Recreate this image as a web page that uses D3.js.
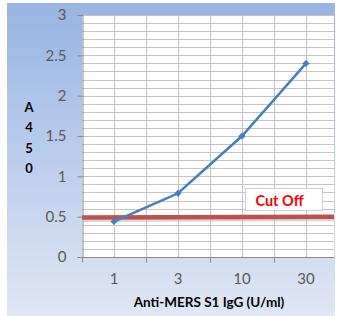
<!DOCTYPE html>
<html>
<head>
<meta charset="utf-8">
<style>
  body { margin: 0; background: white; }
  svg { display: block; font-family: Lato, "Liberation Sans", sans-serif; }
</style>
<script src="https://cdn.jsdelivr.net/npm/d3@7"></script>
</head>
<body>
<svg id="chart"></svg>
<script>
// data
const doses = ["1", "3", "10", "30"]
const a450 = [0.44, 0.79, 1.5, 2.4]
const yTicks = [0, 0.5, 1, 1.5, 2, 2.5, 3]
const cutoff = [0.49, 0.5]   // left edge, right edge
const yLabelChars = ["A", "4", "5", "0"]

let width = 338
let height = 316
let plotLeft = 82, plotRight = 334, plotTop = 15, plotBottom = 257

let svg = d3.select("#chart").attr("width", width).attr("height", height)

let defs = svg.append("defs")
let grad = defs.append("linearGradient").attr("id", "bg")
  .attr("x1", 0).attr("y1", 0).attr("x2", 0).attr("y2", 1)
grad.append("stop").attr("offset", "0%").attr("stop-color", "#98b4e2")
grad.append("stop").attr("offset", "100%").attr("stop-color", "#e0e7f5")

svg.append("rect").attr("x", 7).attr("y", 3)
  .attr("width", 328).attr("height", 313)
  .attr("fill", "url(#bg)")

let x = d3.scaleBand().domain(doses).range([plotLeft, plotLeft + 256])
let y = d3.scaleLinear().domain([0, 3]).range([plotBottom, plotTop])

// plot area
svg.append("rect").attr("x", plotLeft).attr("y", plotTop)
  .attr("width", plotRight - plotLeft).attr("height", plotBottom - plotTop)
  .attr("fill", "white")

// gridlines, every 0.1
let minor = d3.range(0, 31).map(d => d / 10)
svg.append("g").selectAll("line").data(minor).enter().append("line")
  .attr("x1", plotLeft).attr("x2", plotRight)
  .attr("y1", d => Math.round(y(d)) + 0.5).attr("y2", d => Math.round(y(d)) + 0.5)
  .attr("stroke", "#c4c4c4")

let vlines = []
doses.forEach(d => {
  vlines.push(x(d) + x.bandwidth() / 2)
  vlines.push(x(d) + x.bandwidth())
})
svg.append("g").selectAll("line").data(vlines.filter(v => v < plotRight)).enter().append("line")
  .attr("x1", d => Math.round(d) + 0.5).attr("x2", d => Math.round(d) + 0.5)
  .attr("y1", plotTop).attr("y2", plotBottom)
  .attr("stroke", "#c4c4c4")

// axes
let yAxis = d3.axisLeft(y).tickValues(yTicks).tickSize(5).tickPadding(11)
  .tickFormat(d3.format("~g"))
let gy = svg.append("g").attr("transform", `translate(${plotLeft + 0.5},0)`).call(yAxis)
gy.select(".domain").attr("stroke", "#8a8a8a")
gy.selectAll(".tick line").attr("stroke", "#8a8a8a")
gy.selectAll("text").attr("font-size", 15).attr("fill", "#595959")
  .attr("font-family", "Lato, sans-serif")

let gx = svg.append("g").attr("transform", `translate(0,${plotBottom + 0.5})`)
gx.append("line").attr("x1", plotLeft).attr("x2", plotRight).attr("stroke", "#8a8a8a")
let bounds = [plotLeft].concat(doses.map(d => x(d) + x.bandwidth())).filter(v => v < plotRight)
gx.selectAll(".tk").data(bounds).enter().append("line")
  .attr("x1", d => Math.round(d) + 0.5).attr("x2", d => Math.round(d) + 0.5)
  .attr("y1", 0).attr("y2", 5).attr("stroke", "#8a8a8a")
gx.selectAll("text").data(doses).enter().append("text")
  .attr("x", d => x(d) + x.bandwidth() / 2)
  .attr("y", 26)
  .attr("text-anchor", "middle")
  .attr("font-size", 15).attr("fill", "#595959")
  .text(d => d)

// cut off line with a soft shadow
svg.append("line")
  .attr("x1", plotLeft).attr("x2", plotRight)
  .attr("y1", y(cutoff[0]) + 3).attr("y2", y(cutoff[1]) + 3)
  .attr("stroke", "#bdbdbd").attr("stroke-width", 3).attr("opacity", 0.6)
svg.append("line")
  .attr("x1", plotLeft).attr("x2", plotRight)
  .attr("y1", y(cutoff[0])).attr("y2", y(cutoff[1]))
  .attr("stroke", "#c0504d").attr("stroke-width", 4.5)

// series
let line = d3.line().x((d, i) => x(doses[i]) + x.bandwidth() / 2).y(d => y(d))
svg.append("path").datum(a450)
  .attr("d", line)
  .attr("fill", "none")
  .attr("stroke", "#4a7ebb")
  .attr("stroke-width", 2.5)
svg.append("g").selectAll("path").data(a450).enter().append("path")
  .attr("d", d3.symbol().type(d3.symbolSquare).size(26))
  .attr("transform", (d, i) => `translate(${x(doses[i]) + x.bandwidth() / 2},${y(d)}) rotate(45)`)
  .attr("fill", "#4a7ebb")

// cut off label
svg.append("rect").attr("x", 245.5).attr("y", 188.5)
  .attr("width", 77).attr("height", 22)
  .attr("fill", "white").attr("stroke", "#d0d0d0")
svg.append("text").attr("x", 279.5).attr("y", 206)
  .attr("text-anchor", "middle")
  .attr("font-size", 14.5).attr("font-weight", "bold").attr("fill", "#ff0000")
  .text("Cut Off")

// y label, stacked characters
svg.append("g").selectAll("text").data(yLabelChars).enter().append("text")
  .attr("x", 29).attr("y", (d, i) => 112 + i * 20.3)
  .attr("text-anchor", "middle")
  .attr("font-size", 13).attr("font-weight", "bold").attr("fill", "#000")
  .text(d => d)

// x title
svg.append("text").attr("x", 209).attr("y", 307)
  .attr("text-anchor", "middle")
  .attr("font-size", 13.5).attr("font-weight", "bold").attr("fill", "#000")
  .text("Anti-MERS S1 IgG (U/ml)")
</script>
</body>
</html>
